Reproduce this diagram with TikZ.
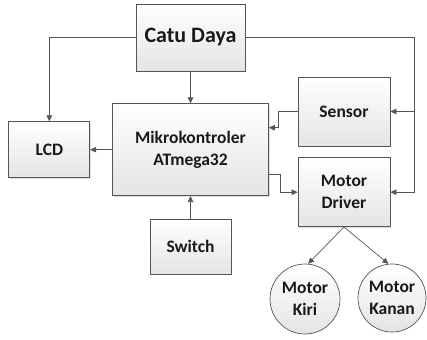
\documentclass[tikz,border=0pt]{standalone}
\usepackage{fontspec}
\setmainfont{Carlito}
\usepackage{tikz}
\usetikzlibrary{arrows.meta,positioning,shadows}
\definecolor{line_gray}{RGB}{85,85,85}
\definecolor{box_bottom}{RGB}{228,228,228}

\begin{document}
\begin{tikzpicture}[
      x=1pt, y=-1pt,
      mybox/.style={
         rectangle,
         draw=line_gray,
         line width=0.7pt,
         top color=white,
         bottom color=box_bottom,
         drop shadow={shadow xshift=1pt,shadow yshift=-1pt,opacity=0.25},
         text=black!90,
         align=center,
         inner sep=0pt,
         font=\bfseries\fontsize{17.5}{22}\selectfont},
      mycircle/.style={
         circle,
         draw=line_gray,
         line width=0.7pt,
         top color=white,
         bottom color=box_bottom,
         text=black!90,
         align=center,
         inner sep=0pt,
         font=\bfseries\fontsize{17.5}{22}\selectfont},
      myarrow/.style={
        -{Triangle[length=6pt,width=5.5pt]},
        line width=0.7pt,
        draw=line_gray},
      ]
      \useasboundingbox (0,0) rectangle (427,339);

      % power
      \node[mybox,minimum width=109pt,minimum height=67pt,
            font=\bfseries\fontsize{22}{26}\selectfont] (catu) at (190.5,37.5) {Catu Daya};

      \node[mybox,minimum width=156pt,minimum height=92pt,below=32pt of catu] (mikro)
         {Mikrokontroler\\ATmega32};
      \node[mybox,minimum width=81pt,minimum height=56pt,left=22pt of mikro] (lcd) {LCD};
      \node[mybox,minimum width=81pt,minimum height=55pt,below=23pt of mikro] (switch) {Switch};

      \node[mybox,minimum width=92pt,minimum height=69pt] (sensor) at (344,111.5) {Sensor};
      \node[mybox,minimum width=92pt,minimum height=69pt,below=11pt of sensor] (driver)
         {Motor\\Driver};

      % motors
      \node[mycircle,minimum size=70pt] (kiri) at (305,299) {Motor\\Kiri};
      \node[mycircle,minimum size=68pt] (kanan) at (392,298) {Motor\\Kanan};

      \coordinate (rbus) at (414,37.5);

      \draw [myarrow] (catu.west) -| (lcd.north);
      \draw [myarrow] (catu.south) -- (mikro.north);
      \draw [myarrow] (catu.east) -- (rbus) |- (driver.east);
      \draw [myarrow] (rbus |- sensor.east) -- (sensor.east);
      \draw [myarrow] (sensor.west) -- ++(-19,0) |- ([yshift=22pt]mikro.east);
      \draw [myarrow] (mikro.west) -- (lcd.east);
      \draw [myarrow] ([yshift=-25pt]mikro.east) -- ++(11,0) |- (driver.west);
      \draw [myarrow] (switch.north) -- (mikro.south);
      \draw [myarrow] (driver.south) -- (kiri.85);
      \draw [myarrow] (driver.south) -- (kanan.96);
\end{tikzpicture}
\end{document}
